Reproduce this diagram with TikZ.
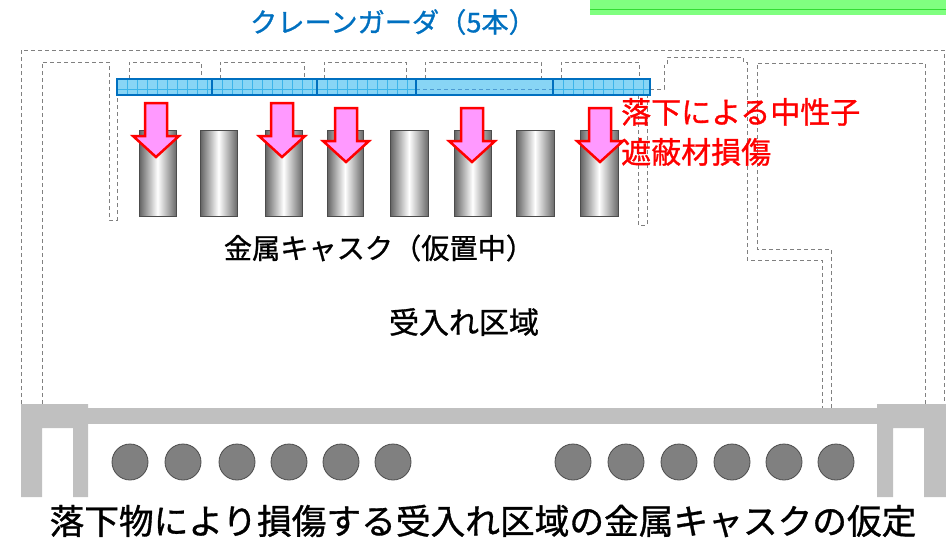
\documentclass[tikz,border=0pt]{standalone}
\usepackage{fontspec}
\setmainfont{Noto Sans CJK JP}[FakeBold=1.0]
\definecolor{girderblue}{HTML}{0070C0}
\definecolor{girderfill}{HTML}{88D5F5}
\definecolor{girdergrid}{HTML}{3CB4EA}
\definecolor{fallpink}{HTML}{FF99FF}
\definecolor{floorgray}{HTML}{C0C0C0}
\definecolor{drumgray}{HTML}{808080}
\definecolor{railgreen}{HTML}{80FF80}
\definecolor{raildark}{HTML}{33DD33}
\begin{document}
\begin{tikzpicture}[x=1pt, y=-1pt,
    wall/.style={draw=black!50, line width=1pt, dash pattern=on 4pt off 3pt},
    girder/.style={fill=girderfill, draw=girderblue, line width=2pt},
    gridline/.style={draw=girdergrid, line width=0.8pt},
    cask/.style={draw=black!70, line width=0.8pt, left color=black!62, right color=black!58, middle color=white},
    fall/.style={fill=fallpink, draw=red, line width=2.5pt, line join=miter},
    floor/.style={fill=floorgray},
    drum/.style={circle, fill=drumgray, draw=black!70, line width=0.8pt, minimum size=36pt, inner sep=0pt},
    txt/.style={inner sep=0pt},
  ]
    \useasboundingbox (0,0) rectangle (946,539);

    \fill[railgreen] (590,0) rectangle (946,15);
    \draw[raildark, line width=1.2pt] (590,9.5) -- (946,9.5);

    % building outline
    \draw[wall] (21,404) -- (21,50) -- (944,50) -- (944,404);
    \draw[wall] (42,404) -- (42,62) -- (109,62) -- (109,220) -- (117,220) -- (117,95);
    \draw[wall] (650,89) -- (664,89) -- (664,65) -- (667,65) -- (667,57) -- (743,57) -- (743,62) -- (747,62)
        -- (747,260) -- (822,260) -- (822,408);
    \draw[wall] (831,408) -- (831,249) -- (757,249) -- (757,63) -- (925,63) -- (925,404);
    \draw[wall] (129,79) -- (129,62) -- (201,62) -- (201,79);
    \draw[wall] (220,79) -- (220,62) -- (304,62) -- (304,79);
    \draw[wall] (324,79) -- (324,62) -- (406,62) -- (406,79);
    \draw[wall] (425,79) -- (425,62) -- (541,62) -- (541,79);
    \draw[wall] (561,79) -- (561,62) -- (639,62) -- (639,79);
    \draw[wall] (638,95) -- (638,225) -- (647,225) -- (647,95);

    % crane girders
    \fill[girderfill] (117,79) rectangle (650,95);
    \foreach \gx in {127,137,...,207,222,232,...,312,327,337,...,407,563,573,...,643}
      \draw[gridline] (\gx,80) -- (\gx,94);
    \draw[gridline] (117,89) -- (416,89);
    \draw[gridline] (553,89) -- (650,89);
    \draw[girderblue!70, line width=0.8pt, dash pattern=on 4pt off 3pt] (416,89) -- (553,89);
    \draw[girder, fill=none] (117,79) rectangle (650,95);
    \draw[girderblue, line width=2pt] (212,79) -- (212,95);
    \draw[girderblue, line width=2pt] (317,79) -- (317,95);
    \draw[girderblue, line width=2pt] (416,79) -- (416,95);
    \draw[girderblue, line width=2pt] (553,79) -- (553,95);

    % casks
    \shadedraw[cask] (139,130) rectangle (176,216);
    \shadedraw[cask] (200,130) rectangle (237,216);
    \shadedraw[cask] (265,130) rectangle (302,216);
    \shadedraw[cask] (327,130) rectangle (363,216);
    \shadedraw[cask] (390,130) rectangle (428,216);
    \shadedraw[cask] (454,130) rectangle (491,216);
    \shadedraw[cask] (516,130) rectangle (554,216);
    \shadedraw[cask] (580,130) rectangle (618,216);

    \foreach \ax/\ay in {156/103, 282/103, 346/108, 472/108, 600/108}
      \draw[fall] (\ax-11,\ay) -- (\ax+11,\ay) -- (\ax+11,\ay+33) -- (\ax+23,\ay+33)
        -- (\ax,\ay+54) -- (\ax-23,\ay+33) -- (\ax-11,\ay+33) -- cycle;

    % floor slab
    \fill[floor] (21,497) -- (21,404) -- (88,404) -- (88,497) -- (73,497) -- (73,428) -- (42,428) -- (42,497) -- cycle;
    \fill[floor] (88,408) rectangle (878,424);
    \fill[floor] (877,497) -- (877,404) -- (946,404) -- (946,497) -- (924,497) -- (924,428) -- (893,428) -- (893,497) -- cycle;

    \foreach \dx [count=\i] in {130,183,237,289,341,393}
      \node[drum] (dl\i) at (\dx,462) {};
    \foreach \dx [count=\i] in {573,626,679,732,784,836}
      \node[drum] (dr\i) at (\dx,462) {};

    \node[txt, text=girderblue, font=\fontsize{27.2}{30}\selectfont] (girdername) at (393,22) {クレーンガーダ（5本）};
    \node[txt, font=\fontsize{28.2}{32}\selectfont] (caskname) at (379,248) {金属キャスク（仮置中）};
    \node[txt, font=\fontsize{30}{34}\selectfont] (areaname) at (464,322) {受入れ区域};
    \node[txt, text=red, font=\fontsize{30}{40}\selectfont, align=left, anchor=west] (damage) at (621,132) {落下による中性子\\遮蔽材損傷};
    \node[txt, font=\fontsize{34.7}{38}\selectfont] (caption) at (483,521) {落下物により損傷する受入れ区域の金属キャスクの仮定};
  \end{tikzpicture}
\end{document}
